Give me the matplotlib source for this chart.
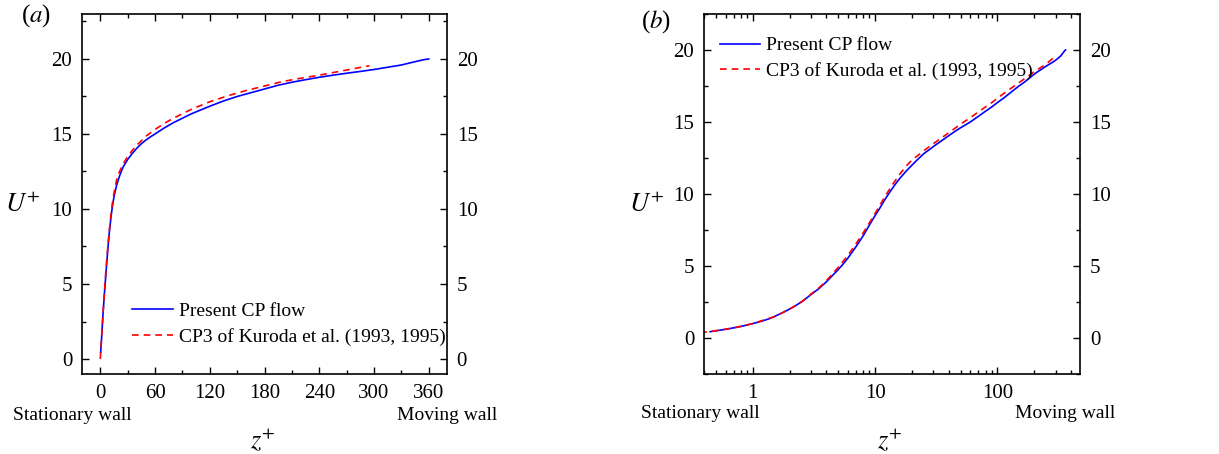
import numpy as np
import matplotlib
matplotlib.use('Agg')
import matplotlib.pyplot as plt
from matplotlib.ticker import MultipleLocator, LogLocator, NullFormatter

plt.rcParams['font.family'] = ['Liberation Serif', 'DejaVu Serif']
plt.rcParams['mathtext.fontset'] = 'stix'

# Present CP flow (z+, U+)
z_cp = [0.45, 0.6, 0.8, 1.0, 1.2, 1.4, 1.8, 2.2, 2.6, 3.0, 3.5, 4.0, 4.5, 5.0, 5.5, 6.0,
        7.0, 8.0, 9.0, 10, 11, 12, 13, 14, 15, 16, 18, 20, 22, 25, 28, 30, 35, 40, 45,
        50, 56, 60, 70, 80, 90, 100, 110, 120, 135, 150, 165, 180, 195, 210, 225, 240,
        255, 270, 285, 300, 315, 330, 345, 355, 360]
u_cp = [0.44, 0.6, 0.8, 1.0, 1.18, 1.37, 1.8, 2.2, 2.6, 3.02, 3.45, 3.9, 4.35, 4.75, 5.15, 5.55,
        6.35, 7.1, 7.85, 8.5, 9.05, 9.6, 10.05, 10.45, 10.8, 11.1, 11.6, 12.0, 12.35, 12.8, 13.1, 13.3, 13.7, 14.05, 14.35,
        14.6, 14.85, 15.0, 15.4, 15.75, 16.05, 16.35, 16.6, 16.85, 17.2, 17.5, 17.75, 18.0, 18.25, 18.45, 18.62, 18.78,
        18.92, 19.05, 19.17, 19.3, 19.45, 19.6, 19.82, 19.96, 20.0]

# CP3 of Kuroda et al. (1993, 1995)
z_kd = [0, 0.3, 0.45, 0.7, 1.0, 1.5, 2.0, 2.5, 3.0, 3.5, 4.0, 5.0, 6.0, 7.0, 8.0, 9.0,
        10, 12, 14, 16, 18, 20, 25, 30, 35, 40, 50, 60, 70, 80, 90, 100, 120, 140, 160,
        180, 200, 220, 240, 260, 280, 295]
u_kd = [0, 0.3, 0.45, 0.7, 1.0, 1.48, 2.0, 2.5, 3.05, 3.5, 3.98, 4.9, 5.75, 6.55, 7.3, 8.0,
        8.65, 9.8, 10.7, 11.4, 11.95, 12.35, 13.0, 13.5, 13.9, 14.25, 14.85, 15.3, 15.7, 16.05, 16.35, 16.65, 17.15, 17.55, 17.9,
        18.2, 18.5, 18.72, 18.92, 19.15, 19.38, 19.55]

labels = ['Present CP flow', 'CP3 of Kuroda et al. (1993, 1995)']
fs = 14
tfs = 15

fig = plt.figure(figsize=(12.19, 4.54), dpi=100)
axA = fig.add_axes([0.0673, 0.1762, 0.2994, 0.793])
axB = fig.add_axes([0.5775, 0.1762, 0.3085, 0.793])


def style(ax):
    ax.tick_params(which='both', direction='in', top=True, right=True,
                   labelright=True, labelsize=tfs, width=1)
    ax.tick_params(which='major', length=5, pad=7)
    ax.tick_params(which='minor', length=3)
    for s in ax.spines.values():
        s.set_linewidth(1.2)


# panel (a)
axA.plot(z_cp, u_cp, color='blue', lw=1.2, label=labels[0])
axA.plot(z_kd, u_kd, color='red', lw=1.2, ls=(0, (4, 3)), label=labels[1])
axA.set_xlim(-20, 380)
axA.set_ylim(-1, 23)
axA.set_xticks([0, 60, 120, 180, 240, 300, 360])
axA.xaxis.set_minor_locator(MultipleLocator(30))
axA.set_yticks([0, 5, 10, 15, 20])
axA.yaxis.set_minor_locator(MultipleLocator(2.5))
style(axA)
axA.legend(loc='lower left', bbox_to_anchor=(0.09, 0.03), frameon=False, fontsize=fs,
           handlelength=2.1, handletextpad=0.3, labelspacing=0.4)

# panel (b)
zb = np.array(z_kd)
ub = np.array(u_kd)
m = zb > 0
axB.plot(z_cp, u_cp, color='blue', lw=1.2, label=labels[0])
axB.plot(zb[m], ub[m], color='red', lw=1.2, ls=(0, (4, 3)), label=labels[1])
axB.set_xscale('log')
axB.set_xlim(0.4, 473)
axB.set_ylim(-2.5, 22.5)
axB.set_xticks([1, 10, 100])
axB.set_xticklabels(['1', '10', '100'])
axB.xaxis.set_minor_locator(LogLocator(base=10, subs=np.arange(2, 10)))
axB.xaxis.set_minor_formatter(NullFormatter())
axB.set_yticks([0, 5, 10, 15, 20])
axB.yaxis.set_minor_locator(MultipleLocator(2.5))
style(axB)
axB.legend(loc='upper left', bbox_to_anchor=(-0.005, 0.985), frameon=False, fontsize=fs,
           handlelength=2.1, handletextpad=0.3, labelspacing=0.4)

# text labels
fig.text(36 / 1219, 1 - 16 / 454, r'($a$)', fontsize=18, ha='center', va='center')
fig.text(656 / 1219, 1 - 22 / 454, r'($b$)', fontsize=18, ha='center', va='center')
fig.text(23 / 1219, 1 - 205 / 454, r'$U^{+}$', fontsize=19, ha='center', va='center')
fig.text(647 / 1219, 1 - 205 / 454, r'$U^{+}$', fontsize=19, ha='center', va='center')
fig.text(263 / 1219, 1 - 440 / 454, r'$z^{+}$', fontsize=19, ha='center', va='center')
fig.text(890 / 1219, 1 - 440 / 454, r'$z^{+}$', fontsize=19, ha='center', va='center')
fig.text(72 / 1219, 1 - 415 / 454, 'Stationary wall', fontsize=fs, ha='center', va='center')
fig.text(447 / 1219, 1 - 415 / 454, 'Moving wall', fontsize=fs, ha='center', va='center')
fig.text(700 / 1219, 1 - 413 / 454, 'Stationary wall', fontsize=fs, ha='center', va='center')
fig.text(1065 / 1219, 1 - 413 / 454, 'Moving wall', fontsize=fs, ha='center', va='center')

fig.savefig('out.png', dpi=100)
